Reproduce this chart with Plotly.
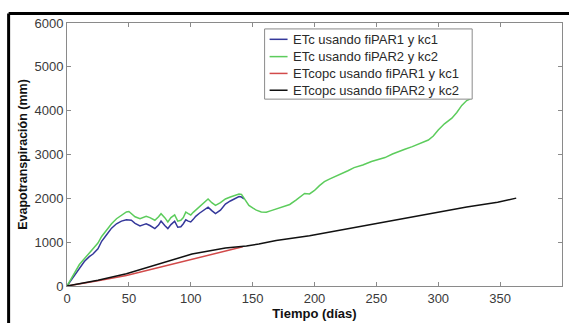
import plotly.graph_objects as go

# ---- data ----
blue_days = [0, 3, 6, 10, 14, 18, 21, 25, 28, 32, 36, 40, 44, 48, 50, 52, 55, 59, 62, 64, 67, 71,
             74, 76, 79, 81.5, 84, 87, 89.5, 92, 94, 96, 98, 100, 102, 104, 107, 110, 114, 117,
             120, 124, 128, 132, 136, 139, 141, 143]
blue_vals = [0, 120, 250, 420, 560, 670, 730, 850, 1020, 1170, 1320, 1420, 1480, 1510, 1500, 1500,
             1430, 1370, 1400, 1420, 1380, 1310, 1390, 1480, 1380, 1310, 1400, 1480, 1340, 1350,
             1420, 1510, 1480, 1460, 1520, 1590, 1660, 1720, 1800, 1720, 1650, 1730, 1870, 1940,
             1990, 2040, 2030, 1990]

green_days = [0, 3, 6, 10, 14, 18, 21, 25, 28, 32, 36, 40, 44, 48, 50, 52, 55, 59, 62, 64, 67, 71,
              74, 76, 79, 81.5, 84, 87, 89.5, 92, 94, 96, 98, 100, 102, 104, 107, 110, 114, 117,
              120, 124, 128, 132, 136, 139, 141, 144, 147, 150, 153, 157, 161, 165, 169, 174,
              180, 185, 188, 192, 196, 200, 204, 208, 212, 217, 222, 227, 232, 239, 246, 252,
              257, 263, 268, 273, 279, 285, 292, 296, 300, 305, 311, 315, 319, 323, 326]
green_vals = [0, 150, 300, 490, 620, 760, 860, 980, 1130, 1280, 1420, 1535, 1620, 1690, 1700, 1650,
              1580, 1535, 1570, 1590, 1560, 1500, 1580, 1650, 1560, 1460, 1560, 1620, 1480, 1500,
              1560, 1685, 1650, 1620, 1680, 1730, 1800, 1880, 1985, 1900, 1840, 1900, 1985, 2030,
              2060, 2100, 2090, 1950, 1840, 1780, 1730, 1690, 1685, 1720, 1760, 1800, 1860, 1960,
              2030, 2110, 2100, 2180, 2290, 2380, 2440, 2500, 2560, 2630, 2700, 2760, 2840, 2890,
              2930, 3010, 3070, 3120, 3180, 3250, 3330, 3420, 3560, 3700, 3830, 3960, 4120, 4230,
              4270]

red_days = [0, 10, 25, 48, 75, 101, 128, 142]
red_vals = [0, 45, 120, 240, 430, 615, 805, 895]

black_days = [0, 10, 25, 48, 75, 101, 128, 145, 155, 169, 196, 222, 249, 273, 298, 323, 348, 363]
black_vals = [0, 50, 130, 278, 500, 730, 865, 910, 960, 1040, 1145, 1280, 1420, 1550, 1685, 1800,
              1910, 2005]

series_names = ["ETc usando fiPAR1 y kc1", "ETc usando fiPAR2 y kc2",
                "ETcopc usando fiPAR1 y kc1", "ETcopc usando fiPAR2 y kc2"]
x_ticks = [0, 50, 100, 150, 200, 250, 300, 350, 400]
y_ticks = [0, 1000, 2000, 3000, 4000, 5000, 6000]

colors = ["#34389a", "#5ccc5c", "#d24a4a", "#111111"]

# plot-area geometry in pixels (used to place the legend box and frame)
W, H = 569, 323
ML, MR, MT, MB = 67, 6, 23, 34
PW, PH = W - ML - MR, H - MT - MB


def px_x(px):
    return (px - ML) / PW


def px_y(py):
    return (H - MB - py) / PH


fig = go.Figure()
for d, v, n, c in zip([blue_days, green_days, red_days, black_days],
                      [blue_vals, green_vals, red_vals, black_vals],
                      series_names, colors):
    fig.add_trace(go.Scatter(x=d, y=v, mode="lines", name=n, showlegend=False,
                             line=dict(color=c, width=1.5)))

axis_common = dict(showline=True, linecolor="#8a8a8a", linewidth=1, mirror="ticks",
                   ticks="inside", ticklen=4, tickcolor="#8a8a8a", showgrid=False,
                   zeroline=False, tickfont=dict(family="Liberation Sans", size=13, color="#3a3a3a"))

fig.update_layout(
    width=W, height=H,
    margin=dict(l=ML, r=MR, t=MT, b=MB),
    paper_bgcolor="white", plot_bgcolor="white",
    xaxis=dict(range=[0, 400], tickvals=x_ticks, ticktext=[str(t) for t in x_ticks],
               title=dict(text="<b>Tiempo (días)</b>", standoff=2,
                          font=dict(family="Liberation Sans", size=13, color="#111")),
               **axis_common),
    yaxis=dict(range=[0, 6000], tickvals=y_ticks, ticktext=[str(t) for t in y_ticks],
               title=dict(text="<b>Evapotranspiración (mm)</b>", standoff=4,
                          font=dict(family="Liberation Sans", size=12.5, color="#111")),
               **axis_common),
    showlegend=False,
)

# legend box (MATLAB-style, opaque)
fig.add_shape(type="rect", xref="paper", yref="paper",
              x0=px_x(265), x1=px_x(473), y0=px_y(100), y1=px_y(29),
              line=dict(color="#8a8a8a", width=1), fillcolor="white", layer="above")
row_y = [39.5, 57, 74, 91]
for name, c, ry in zip(series_names, colors, row_y):
    fig.add_shape(type="line", xref="paper", yref="paper",
                  x0=px_x(270), x1=px_x(288), y0=px_y(ry), y1=px_y(ry),
                  line=dict(color=c, width=1.5), layer="above")
    fig.add_annotation(x=px_x(291), y=px_y(ry), xref="paper", yref="paper",
                       text=name, showarrow=False, xanchor="left", yanchor="middle",
                       font=dict(family="Liberation Sans", size=13, color="#2a2a2a"))

# outer black frame of the picture (top and left edges visible)
fig.add_shape(type="line", xref="paper", yref="paper",
              x0=px_x(8.5), x1=px_x(W + 5), y0=px_y(13.5), y1=px_y(13.5),
              line=dict(color="black", width=3), layer="above")
fig.add_shape(type="line", xref="paper", yref="paper",
              x0=px_x(8.5), x1=px_x(8.5), y0=px_y(13.5), y1=px_y(H + 5),
              line=dict(color="black", width=3), layer="above")

fig.write_html("out.html")
